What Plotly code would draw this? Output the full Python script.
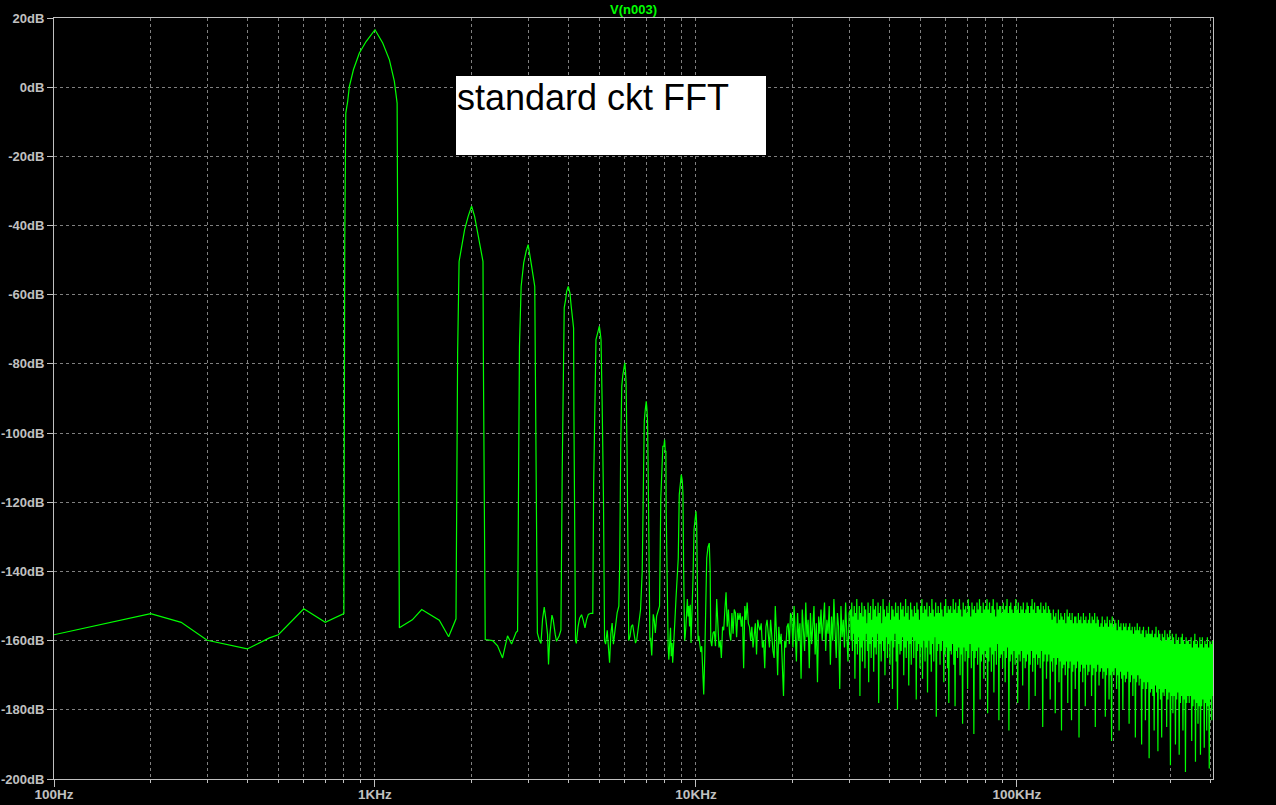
import numpy as np
import plotly.graph_objects as go

# ---------------- data ----------------
# Low-frequency floor, fundamental and harmonics 2..11 (Hz, dB)
tone_hz = [
    100, 200, 249, 300, 400, 469, 500, 600, 700, 774, 800,
    805, 811, 822, 832, 857, 894, 938, 1000, 1057, 1109, 1149, 1172, 1177, 1191,
    1307, 1398, 1586, 1696, 1788,
    1796, 1809, 1828, 1856, 1902, 1950, 2000, 2044, 2093, 2144, 2170, 2176, 2195, 2205,
    2325, 2409, 2497, 2588, 2664, 2702, 2749, 2781,
    2795, 2819, 2853, 2906, 2956, 3000, 3064, 3115, 3146, 3161, 3193, 3205,
    3249, 3289, 3326, 3367, 3408, 3448, 3472, 3507, 3558, 3591, 3643, 3677, 3749, 3795,
    3830, 3858, 3886, 3926, 3954, 4000, 4049, 4086, 4127, 4156, 4165, 4194, 4214,
    4240, 4290, 4340, 4400, 4450, 4510, 4560, 4620, 4700, 4770,
    4800, 4845, 4880, 4940, 4975, 5000, 5025, 5060, 5100, 5150, 5190,
    5230, 5290, 5340, 5380, 5430, 5480, 5530, 5590, 5680, 5750,
    5785, 5828, 5871, 5914, 5957, 6000, 6030, 6057, 6100, 6143, 6172,
    6230, 6290, 6350, 6410, 6480, 6540, 6640, 6720,
    6800, 6850, 6900, 6950, 7000, 7035, 7065, 7100, 7150, 7185,
    7220, 7280, 7360, 7410, 7470, 7540, 7620, 7700,
    7770, 7827, 7885, 7943, 7985, 8020, 8058, 8075, 8115, 8155,
    8190, 8230, 8290, 8330, 8370, 8420, 8460, 8500, 8560, 8600, 8660,
    8806, 8870, 8935, 9000, 9065, 9110, 9150, 9215,
    9250, 9300, 9350, 9400, 9450, 9500, 9550, 9600, 9650, 9700,
    9790, 9860, 9930, 10000, 10050, 10100, 10150,
    10200, 10280, 10350, 10420, 10500, 10570, 10650, 10720,
    10800, 10900, 11000, 11070, 11120,
    11200, 11300, 11400, 11500,
]
tone_db = [
    -158.3, -152.2, -154.7, -159.9, -162.4, -159.2, -158.3, -150.8, -154.7, -152.8, -152.2,
    -44.6, -7.5, -4.1, 0.2, 5.1, 9.9, 13.2, 16.6, 12.8, 7.9, 1.7, -4.6, -43.6, -156.3,
    -154.0, -151.0, -154.1, -158.9, -153.7,
    -128.0, -76.8, -50.4, -46.5, -41.2, -37.4, -34.4, -37.4, -42.2, -47.9, -50.4, -78.5, -132.7, -159.7,
    -160.0, -161.5, -165.0, -158.6, -161.0, -159.4, -157.7, -157.2,
    -107.2, -74.9, -57.6, -50.8, -47.5, -45.5, -50.8, -54.7, -57.6, -83.6, -132.7, -157.8,
    -159.8, -160.8, -153.9, -150.3, -153.9, -158.2, -166.9, -158.2, -152.6, -154.0, -158.2, -160.2, -158.6, -157.0,
    -111.5, -80.7, -63.8, -61.4, -59.0, -57.6, -59.5, -63.4, -66.7, -69.6, -93.7, -138.5, -160.0,
    -160.8, -156.0, -153.5, -152.5, -154.0, -156.3, -154.0, -152.4, -152.1, -152.1,
    -114.4, -89.4, -73.0, -71.0, -70.0, -69.1, -70.5, -73.0, -90.8, -119.2, -160.0,
    -161.0, -157.0, -164.0, -166.4, -158.0, -154.9, -161.0, -157.0, -152.0, -150.0,
    -138.0, -104.3, -86.5, -83.4, -81.5, -79.7, -82.0, -85.5, -105.7, -140.0, -160.0,
    -158.8, -155.9, -155.4, -157.8, -160.7, -159.7, -154.9, -151.0,
    -140.0, -112.0, -96.6, -93.2, -90.8, -93.2, -96.6, -113.0, -141.0, -160.0,
    -159.2, -164.3, -152.4, -153.9, -157.8, -152.9, -151.0, -150.0,
    -118.7, -107.2, -103.8, -103.8, -101.9, -105.3, -105.3, -122.1, -141.0, -160.0,
    -161.6, -165.5, -157.8, -156.3, -164.5, -160.7, -166.4, -161.6, -155.9, -153.9, -148.2,
    -136.1, -117.8, -113.9, -112.0, -113.9, -117.8, -138.5, -160.0,
    -159.0, -155.9, -152.5, -148.0, -153.0, -150.0, -155.9, -149.6, -160.7, -154.9,
    -141.9, -127.9, -124.5, -122.6, -126.5, -150.0, -160.0,
    -158.6, -161.0, -163.3, -161.6, -168.4, -175.6, -164.5, -152.4,
    -136.1, -133.0, -131.8, -140.0, -160.0,
    -161.6, -157.8, -157.3, -161.6,
]

# Sparse noise floor 11.6 kHz .. 30 kHz, values read at even steps on the log axis
noise_lo_start_hz = 11600
noise_lo_stop_hz = 30000
noise_lo_db = [
    -148, -158, -162, -160, -165, -156, -157, -151, -146, -156, -151, -158, -160, -152, -158, -151,
    -152, -159, -152, -154, -152, -156, -153, -168, -150, -154, -149, -155, -156, -160, -156, -162,
    -157, -155, -164, -154, -156, -157, -155, -162, -160, -168, -156, -154, -158, -162, -154, -160,
    -163, -165, -150, -158, -170, -156, -161, -158, -165, -176, -160, -162, -156, -155, -161, -152,
    -153, -162, -150, -158, -166, -152, -160, -155, -171, -151, -157, -163, -149, -159, -154, -168, -152, -161, -156, -150, -164, -155, -172, -153, -158,
    -151, -160, -155, -149, -163, -154, -158, -150, -167, -153, -160, -148, -157, -165, -152, -156, -174, -150, -159, -154, -162, -149, -158, -166, -152,
]

# Dense noise floor 30 kHz .. 408 kHz, values read at even steps on the log axis
noise_hi_start_hz = 30300
noise_hi_stop_hz = 408000
noise_hi_db = [
    -151, -160, -149, -163, -153, -158, -150, -171, -152, -161, -148, -164, -154, -159, -150, -176, -152, -162, -149, -166,
    -153, -160, -150, -168, -151, -158, -155, -163, -149, -172, -152, -161, -150, -165, -154, -159, -148, -169, -151, -162,
    -150, -164, -153, -158, -149, -178, -152, -161, -150, -166, -155, -160, -148, -163, -151, -170, -153, -159, -150, -165,
    -152, -161, -149, -167, -154, -160, -150, -174, -151, -162, -153, -158, -149, -166, -152, -180, -150, -161, -154, -164,
    -149, -163, -151, -159, -150, -170, -153, -162, -148, -165, -152, -160, -150, -173, -154, -161, -149, -167, -151, -159,
    -153, -165, -150, -160, -152, -177, -149, -163, -151, -161, -154, -168, -150, -162, -148, -171, -152, -160, -150, -166,
    -151, -162, -149, -175, -153, -160, -150, -164, -152, -169, -148, -161, -151, -166, -153, -159, -149, -182, -152, -163,
    -150, -161, -152, -167, -149, -163, -151, -160, -153, -172, -150, -164, -148, -162, -152, -168, -150, -178, -151, -163,
    -150, -164, -152, -161, -148, -167, -151, -179, -149, -163, -152, -165, -150, -162, -148, -170, -151, -164, -153, -184,
    -149, -162, -151, -166, -150, -163, -152, -174, -148, -165, -150, -161, -153, -168, -149, -163, -151, -187, -150, -165,
    -152, -163, -149, -167, -151, -162, -148, -177, -150, -166, -152, -164, -149, -171, -151, -163, -150, -165, -148, -181,
    -151, -166, -149, -162, -152, -169, -150, -164, -148, -175, -151, -163, -153, -167, -149, -161, -151, -183, -150, -165,
    -150, -164, -152, -168, -149, -163, -151, -172, -150, -165, -148, -162, -152, -186, -150, -166, -149, -164, -151, -170,
    -152, -163, -150, -167, -148, -165, -151, -178, -149, -164, -152, -166, -150, -163, -151, -173, -149, -165, -152, -168,
    -151, -166, -149, -164, -150, -180, -152, -167, -150, -163, -148, -169, -151, -165, -149, -176, -152, -164, -150, -167,
    -150, -165, -151, -168, -149, -163, -152, -185, -150, -166, -151, -164, -149, -171, -152, -166, -150, -164, -151, -177,
    -152, -166, -154, -169, -151, -165, -153, -181, -152, -167, -155, -165, -151, -172, -154, -166, -152, -186, -153, -168,
    -154, -167, -152, -170, -155, -166, -151, -178, -153, -168, -152, -166, -154, -183, -152, -169, -155, -167, -153, -174,
    -153, -168, -155, -166, -152, -188, -154, -169, -153, -167, -155, -172, -152, -168, -154, -179, -153, -167, -155, -170,
    -154, -169, -152, -167, -155, -176, -153, -170, -154, -168, -152, -185, -155, -169, -153, -167, -154, -173, -156, -169,
    -155, -168, -153, -171, -156, -169, -154, -182, -155, -170, -153, -168, -156, -177, -154, -170, -155, -189, -153, -169,
    -156, -170, -154, -168, -155, -174, -157, -170, -154, -186, -156, -169, -155, -171, -157, -180, -155, -170, -156, -172,
    -155, -171, -157, -169, -156, -184, -155, -172, -157, -170, -156, -176, -158, -171, -156, -188, -157, -172, -155, -170,
    -157, -173, -156, -171, -158, -190, -157, -174, -156, -172, -159, -183, -157, -174, -158, -172, -156, -194, -158, -175,
    -158, -174, -157, -176, -159, -186, -158, -173, -156, -175, -159, -192, -157, -174, -158, -177, -160, -188, -158, -175,
    -159, -176, -157, -174, -160, -185, -158, -177, -159, -175, -157, -196, -160, -176, -158, -181, -159, -176, -161, -190,
    -158, -177, -160, -175, -159, -193, -161, -178, -159, -176, -158, -186, -160, -177, -161, -198, -159, -178, -160, -176,
    -160, -178, -161, -176, -159, -189, -162, -179, -160, -177, -158, -195, -161, -178, -160, -184, -162, -179, -159, -193,
    -161, -179, -159, -177, -162, -191, -160, -178, -161, -186, -159, -179, -162, -197, -160, -177, -161, -183, -160, -176,
]

x_major_vals = [100, 1000, 10000, 100000]
x_major_text = ["100Hz", "1KHz", "10KHz", "100KHz"]
x_minor_vals = ([m * 100 for m in range(2, 10)] + [m * 1000 for m in range(2, 10)]
                + [m * 10000 for m in range(2, 10)] + [m * 100000 for m in range(2, 5)])
y_vals = list(range(20, -201, -20))
y_text = [f"{v}dB" for v in y_vals]

trace_name = "V(n003)"
note_text = "standard ckt FFT"

# ---------------- figure ----------------
noise_lo_hz = np.geomspace(noise_lo_start_hz, noise_lo_stop_hz, len(noise_lo_db))
noise_hi_hz = np.geomspace(noise_hi_start_hz, noise_hi_stop_hz, len(noise_hi_db))
xs = list(tone_hz) + list(noise_lo_hz) + list(noise_hi_hz)
ys = list(tone_db) + list(noise_lo_db) + list(noise_hi_db)

GREEN = "#00ff00"
FRAME = "#c0c0c0"
GRID = "#808080"
FONT = "Liberation Sans, Arial, sans-serif"
ytickfont = dict(family=FONT, size=13, color=FRAME, weight="bold")
xtickfont = dict(family=FONT, size=13.5, color=FRAME, weight="bold")

fig = go.Figure()
fig.add_trace(go.Scatter(x=xs, y=ys, mode="lines", line=dict(color=GREEN, width=1.2),
                         hoverinfo="skip", showlegend=False))

fig.update_layout(
    width=1276, height=805,
    margin=dict(l=54, r=63, t=18, b=26, pad=0, autoexpand=False),
    paper_bgcolor="black", plot_bgcolor="black",
    showlegend=False,
    xaxis=dict(
        type="log", range=[2, np.log10(noise_hi_stop_hz)], automargin=False,
        tickmode="array", tickvals=x_major_vals, ticktext=x_major_text,
        ticks="outside", ticklen=7, tickwidth=1, tickcolor=FRAME,
        ticklabelstandoff=-4,
        showline=True, mirror=True, linecolor=FRAME, linewidth=1,
        showgrid=True, gridcolor=GRID, gridwidth=1, griddash="3px,3px",
        zeroline=False, tickfont=xtickfont,
        minor=dict(tickmode="array", tickvals=x_minor_vals, ticks="outside", ticklen=3,
                   tickwidth=1, tickcolor=FRAME, showgrid=True, gridcolor=GRID,
                   gridwidth=1, griddash="3px,3px"),
    ),
    yaxis=dict(
        range=[-200, 20], automargin=False,
        tickmode="array", tickvals=y_vals, ticktext=y_text,
        ticks="outside", ticklen=6, tickwidth=1, tickcolor=FRAME,
        showline=True, mirror=True, linecolor=FRAME, linewidth=1,
        showgrid=True, gridcolor=GRID, gridwidth=1, griddash="3px,3px",
        zeroline=False, tickfont=ytickfont,
    ),
)

# plot area is 1159 x 761 px starting at (54, 18)
PW, PH = 1159.0, 761.0
bx0, bx1 = (456 - 54) / PW, (766 - 54) / PW
by1, by0 = 1 - (76 - 18) / PH, 1 - (155 - 18) / PH
fig.add_shape(type="rect", xref="paper", yref="paper", x0=bx0, x1=bx1, y0=by0, y1=by1,
              fillcolor="white", line=dict(width=0), layer="above")
fig.add_annotation(xref="paper", yref="paper", x=bx0, y=by1, xanchor="left", yanchor="top",
                   text=note_text, showarrow=False, borderpad=0,
                   font=dict(family=FONT, size=36, color="black"))
fig.add_annotation(xref="paper", yref="paper", x=0.5, y=1, xanchor="center", yanchor="bottom",
                   text=trace_name, showarrow=False, borderpad=0,
                   font=dict(family=FONT, size=13, color=GREEN, weight="bold"))

fig.write_html("out.html", config={"displayModeBar": False},
               post_script="document.body.style.margin='0';document.body.style.background='black';")
